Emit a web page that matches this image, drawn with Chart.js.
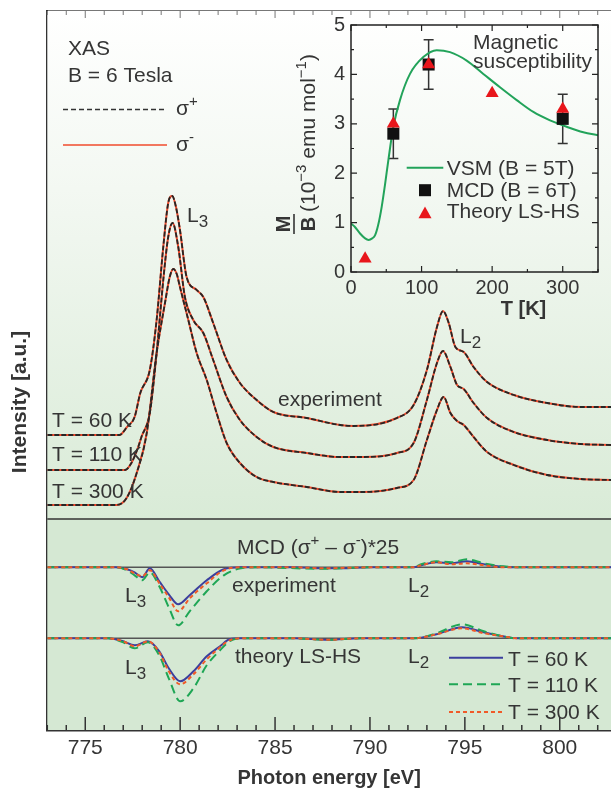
<!DOCTYPE html>
<html>
<head>
<meta charset="utf-8">
<title>XAS / MCD</title>
<script src="https://cdn.jsdelivr.net/npm/chart.js@4.4.1/dist/chart.umd.min.js"></script>
<style>
  html, body { margin: 0; padding: 0; background: #fff; }
  #wrap { position: relative; width: 611px; height: 792px; overflow: hidden; }
  #xas { position: absolute; left: 0; top: 0; }
  #inset { position: absolute; left: 270px; top: 0; }
</style>
</head>
<body>
<div id="wrap">
  <canvas id="xas" width="611" height="792"></canvas>
  <canvas id="inset" width="341" height="330"></canvas>
</div>
<script>
// 글꼴 / 색
const FONT = "'Liberation Sans', Arial, Helvetica, sans-serif";
const TEXT = '#353535';
Chart.defaults.font.family = FONT;
Chart.defaults.color = TEXT;

// 메인 x축
const energyTicks = [775, 780, 785, 790, 795, 800];
const energyMin = 773;
const energyMax = 802.7;

// XAS 스펙트럼 [eV, a.u.] (σ+ 와 σ- 는 겹쳐 보임)
const xas60 = [[773.0,2.95],[776.3,2.95],[776.8,2.95],[777.2,3.03],[777.6,3.13],[777.9,3.37],[778.4,3.60],[778.76,4.10],[779.11,4.83],[779.37,5.27],[779.58,5.34],[779.78,5.23],[779.99,5.00],[780.34,4.53],[780.87,4.40],[781.22,4.33],[781.74,4.07],[782.45,3.70],[783.15,3.47],[784.03,3.30],[784.91,3.18],[786.67,3.12],[788.43,3.05],[789.13,3.04],[791.42,3.12],[792.3,3.25],[793.0,3.60],[793.53,4.03],[793.85,4.19],[794.15,4.07],[794.5,3.83],[794.94,3.78],[795.46,3.63],[796.17,3.48],[797.58,3.35],[799.34,3.27],[801.1,3.23],[802.7,3.23]];
const xas110 = [[773.0,2.60],[777.1,2.60],[777.43,2.67],[777.79,2.83],[777.96,2.93],[778.4,3.17],[778.76,3.77],[779.11,4.50],[779.37,4.93],[779.6,5.07],[779.9,4.83],[780.25,4.33],[780.69,4.10],[781.22,3.97],[781.74,3.70],[782.45,3.33],[783.15,3.10],[784.03,2.93],[784.91,2.83],[786.67,2.77],[788.43,2.73],[789.66,2.73],[791.42,2.77],[792.3,2.87],[793.0,3.30],[793.53,3.67],[793.85,3.79],[794.24,3.63],[794.59,3.45],[794.94,3.41],[795.46,3.27],[796.17,3.12],[797.58,2.98],[799.34,2.90],[801.1,2.86],[802.7,2.85]];
const xas300 = [[773.0,2.25],[776.65,2.25],[777.18,2.32],[777.71,2.57],[778.24,2.97],[778.76,3.77],[779.2,4.27],[779.45,4.53],[779.64,4.61],[779.82,4.56],[779.99,4.43],[780.43,4.10],[780.87,3.77],[781.4,3.50],[781.92,3.17],[782.45,2.87],[783.15,2.67],[784.03,2.53],[784.91,2.48],[786.67,2.43],[788.43,2.38],[789.66,2.38],[791.42,2.42],[792.3,2.50],[793.0,2.90],[793.53,3.20],[793.88,3.33],[794.24,3.17],[794.59,3.09],[794.94,3.05],[795.46,2.93],[796.17,2.78],[797.58,2.65],[799.34,2.55],[801.1,2.51],[802.7,2.50]];

// MCD (σ+ − σ-)*25, 실험
const mcdExp60 = [[773,0],[776.6,0],[777.2,-0.02],[777.6,-0.05],[778.0,-0.10],[778.4,-0.01],[778.9,-0.14],[779.4,-0.27],[779.9,-0.37],[780.5,-0.28],[781.4,-0.13],[782.3,-0.02],[783.2,0],[786,0],[787.5,-0.01],[788.5,-0.01],[790,0],[792.3,0],[792.7,0.02],[793.5,0.05],[794.3,0.04],[795.1,0.06],[796.0,0.03],[797.0,0.005],[798,0],[802.7,0]];
const mcdExp110 = [[773,0],[776.6,0],[777.2,-0.03],[777.6,-0.08],[778.0,-0.13],[778.4,-0.05],[778.9,-0.19],[779.4,-0.40],[779.9,-0.58],[780.5,-0.44],[781.4,-0.24],[782.3,-0.08],[783.2,-0.01],[784,0],[787.5,-0.015],[788.5,-0.01],[790,0],[792.3,0],[792.7,0.03],[793.5,0.06],[794.3,0.05],[795.1,0.08],[796,0.04],[797,0.01],[798,0],[802.7,0]];
const mcdExp300 = [[773,0],[776.6,0],[777.2,-0.02],[777.6,-0.06],[778.0,-0.09],[778.4,-0.03],[778.9,-0.16],[779.4,-0.30],[779.9,-0.44],[780.5,-0.31],[781.4,-0.16],[782.3,-0.03],[783.2,0],[786,0],[787.5,-0.01],[790,0],[792.3,0],[792.7,0.02],[793.5,0.05],[794.3,0.03],[795.1,0.04],[796,0.02],[797,0],[802.7,0]];

// MCD, 이론 LS-HS
const mcdTh60 = [[773,0],[776.2,0],[777.0,-0.03],[777.6,-0.07],[778.3,-0.03],[778.9,-0.13],[779.4,-0.30],[780.0,-0.43],[780.7,-0.33],[781.4,-0.18],[782.1,-0.08],[782.6,-0.01],[783.2,0],[786,0],[787.8,-0.015],[789.5,0],[792.3,0],[793.5,0.04],[794.85,0.11],[796,0.06],[797,0.02],[797.75,0],[802.7,0]];
const mcdTh110 = [[773,0],[776.2,0],[777.0,-0.04],[777.6,-0.10],[778.3,-0.04],[778.9,-0.17],[779.4,-0.40],[780.0,-0.63],[780.7,-0.50],[781.4,-0.27],[782.1,-0.12],[782.6,-0.03],[783.2,0],[786,0],[787.8,-0.015],[789.5,0],[792.3,0],[793.5,0.05],[794.85,0.14],[796,0.07],[797,0.02],[797.75,0],[802.7,0]];
const mcdTh300 = [[773,0],[776.2,0],[777.0,-0.03],[777.6,-0.08],[778.3,-0.03],[778.9,-0.14],[779.4,-0.33],[780.0,-0.46],[780.7,-0.36],[781.4,-0.21],[782.1,-0.09],[782.6,-0.02],[783.2,0],[786,0],[787.8,-0.015],[789.5,0],[792.3,0],[793.5,0.04],[794.85,0.10],[796,0.05],[797,0.02],[797.75,0],[802.7,0]];

// 패널 기준선 (a.u.)
const panelSplit = 2.11;
const expZero = 1.627;
const theoryZero = 0.917;

// 인셋: 자화율
const insetTTicks = [0, 100, 200, 300];
const insetMBTicks = [0, 1, 2, 3, 4, 5];
const vsmCurve = [[0,0.98],[5,0.92],[12.8,0.78],[20,0.68],[25,0.65],[30,0.68],[34,0.74],[38.5,0.95],[43.5,1.32],[48,1.75],[52.9,2.26],[60,2.94],[69.4,3.48],[83.6,4.01],[102.5,4.35],[121.4,4.49],[140.3,4.45],[163.9,4.28],[187.5,4.01],[211.1,3.74],[234.8,3.48],[258.4,3.24],[282,3.07],[305.6,2.94],[329.2,2.83],[350,2.77]];
const mcdT = [60, 110, 300];
const mcdMB = [2.8, 4.2, 3.1];
const mcdErr = [0.5, 0.5, 0.5];
const theoryT = [20, 60, 110, 200, 300];
const theoryMB = [0.27, 3.0, 4.2, 3.62, 3.3];

const COLORS = {
  plus: '#262626',
  minus: '#f04b2c',
  t60: '#3b3f9e',
  t110: '#1fa655',
  t300: '#f05a28',
  vsm: '#22a35a',
  tri: '#e8161b'
};

const pts = (arr, off = 0) => arr.map(([x, y]) => ({ x, y: y + off }));

// 위/아래 첨자 포함 텍스트
function richText(ctx, x, y, parts, size = 21) {
  let cx = x;
  ctx.textAlign = 'left';
  ctx.textBaseline = 'alphabetic';
  for (const [t, kind, weight] of parts) {
    let s = size, dy = 0;
    if (kind === 'sup') { s = Math.round(size * 0.72); dy = -size * 0.42; }
    if (kind === 'sub') { s = Math.round(size * 0.82); dy = size * 0.25; }
    ctx.font = `${weight || 'normal'} ${s}px ${FONT}`;
    ctx.fillText(t, cx, y + dy);
    cx += ctx.measureText(t).width;
  }
  return cx;
}

function legendLine(ctx, x1, x2, y, color, dash, width = 2) {
  ctx.save();
  ctx.strokeStyle = color;
  ctx.lineWidth = width;
  ctx.setLineDash(dash);
  ctx.beginPath();
  ctx.moveTo(x1, y);
  ctx.lineTo(x2, y);
  ctx.stroke();
  ctx.restore();
}

// 배경 + 기준선
const panelPlugin = {
  id: 'panels',
  beforeDatasetsDraw(chart) {
    const { ctx, chartArea: a, scales: { y } } = chart;
    const split = y.getPixelForValue(panelSplit);
    ctx.save();
    const g = ctx.createLinearGradient(0, a.top, 0, split);
    g.addColorStop(0, '#ffffff');
    g.addColorStop(0.35, '#f3f8f2');
    g.addColorStop(1, '#d9ebd7');
    ctx.fillStyle = g;
    ctx.fillRect(a.left, a.top, a.right - a.left, split - a.top);
    ctx.fillStyle = '#d5e8d3';
    ctx.fillRect(a.left, split, a.right - a.left, a.bottom - split);

    ctx.strokeStyle = '#333';
    ctx.lineWidth = 1.6;
    ctx.beginPath();
    ctx.moveTo(a.left, split);
    ctx.lineTo(a.right, split);
    ctx.stroke();
    ctx.strokeStyle = '#555';
    ctx.lineWidth = 1.4;
    for (const z of [expZero, theoryZero]) {
      const py = y.getPixelForValue(z);
      ctx.beginPath();
      ctx.moveTo(a.left, py);
      ctx.lineTo(a.right, py);
      ctx.stroke();
    }
    ctx.restore();
  }
};

// 안쪽 눈금
const frameTicks = {
  id: 'frameTicks',
  afterDatasetsDraw(chart) {
    const { ctx, chartArea: a, scales: { x } } = chart;
    ctx.save();
    for (let e = Math.ceil(x.min); e <= x.max; e++) {
      const px = x.getPixelForValue(e);
      const major = energyTicks.includes(e);
      ctx.strokeStyle = '#333';
      ctx.lineWidth = 1.5;
      ctx.beginPath();
      ctx.moveTo(px, a.bottom);
      ctx.lineTo(px, a.bottom - (major ? 13 : 5));
      ctx.stroke();
      ctx.strokeStyle = '#777';
      ctx.lineWidth = 1;
      ctx.beginPath();
      ctx.moveTo(px, a.top);
      ctx.lineTo(px, a.top + (major ? 7 : 4));
      ctx.stroke();
    }
    ctx.restore();
  }
};

// 주석, 범례
const labelPlugin = {
  id: 'labels',
  afterDatasetsDraw(chart) {
    const { ctx } = chart;
    ctx.save();
    ctx.fillStyle = TEXT;

    // 세로축 제목
    ctx.save();
    ctx.translate(20, 402);
    ctx.rotate(-Math.PI / 2);
    ctx.font = `bold 21px ${FONT}`;
    ctx.textAlign = 'center';
    ctx.textBaseline = 'middle';
    ctx.fillText('Intensity [a.u.]', 0, 0);
    ctx.restore();

    richText(ctx, 68, 55, [['XAS']]);
    richText(ctx, 68, 82, [['B = 6 Tesla']]);
    legendLine(ctx, 63, 167, 109.5, '#333', [5, 3], 1.3);
    richText(ctx, 176, 115, [['σ'], ['+', 'sup']]);
    legendLine(ctx, 63, 167, 145, COLORS.minus, [], 1.6);
    richText(ctx, 176, 151, [['σ'], ['-', 'sup']]);

    richText(ctx, 187, 221.5, [['L'], ['3', 'sub']]);
    richText(ctx, 460, 343, [['L'], ['2', 'sub']]);
    richText(ctx, 278, 406, [['experiment']]);
    richText(ctx, 52, 426.5, [['T = 60 K']]);
    richText(ctx, 52, 461, [['T = 110 K']]);
    richText(ctx, 52, 498, [['T = 300 K']]);

    richText(ctx, 237, 554, [['MCD ('], ['σ'], ['+', 'sup'], [' – σ'], ['-', 'sup'], [')*25']]);
    richText(ctx, 232, 592, [['experiment']]);
    richText(ctx, 235, 663, [['theory LS-HS']]);
    richText(ctx, 125, 602, [['L'], ['3', 'sub']]);
    richText(ctx, 125, 674, [['L'], ['3', 'sub']]);
    richText(ctx, 408, 592, [['L'], ['2', 'sub']]);
    richText(ctx, 408, 663, [['L'], ['2', 'sub']]);

    legendLine(ctx, 449, 503, 657.7, COLORS.t60, [], 2);
    richText(ctx, 508, 665.5, [['T = 60 K']]);
    legendLine(ctx, 449, 503, 684.3, COLORS.t110, [9, 5], 2);
    richText(ctx, 508, 691.5, [['T = 110 K']]);
    legendLine(ctx, 449, 503, 712, COLORS.t300, [4, 3], 2);
    richText(ctx, 508, 718.5, [['T = 300 K']]);
    ctx.restore();
  }
};

const line = (data, color, dash, width = 2) => ({
  data,
  borderColor: color,
  borderDash: dash,
  borderWidth: width,
  pointRadius: 0,
  cubicInterpolationMode: 'monotone',
  xAxisID: 'x',
  yAxisID: 'y'
});

const xasChart = new Chart(document.getElementById('xas'), {
  type: 'line',
  data: {
    datasets: [
      line(pts(xas60), COLORS.plus, [5, 2], 1.8),
      line(pts(xas110), COLORS.plus, [5, 2], 1.8),
      line(pts(xas300), COLORS.plus, [5, 2], 1.8),
      line(pts(xas60), COLORS.minus, [], 2),
      line(pts(xas110), COLORS.minus, [], 2),
      line(pts(xas300), COLORS.minus, [], 2),
      line(pts(mcdExp300, expZero), COLORS.t300, [4, 3]),
      line(pts(mcdExp110, expZero), COLORS.t110, [9, 5]),
      line(pts(mcdExp60, expZero), COLORS.t60, []),
      line(pts(mcdTh300, theoryZero), COLORS.t300, [4, 3]),
      line(pts(mcdTh110, theoryZero), COLORS.t110, [9, 5]),
      line(pts(mcdTh60, theoryZero), COLORS.t60, [])
    ]
  },
  options: {
    responsive: false,
    animation: false,
    layout: { padding: 0 },
    plugins: { legend: { display: false }, tooltip: { enabled: false } },
    scales: {
      x: {
        type: 'linear',
        position: 'bottom',
        min: energyMin,
        max: energyMax,
        afterBuildTicks: s => { s.ticks = energyTicks.map(v => ({ value: v })); },
        afterFit: s => { s.height = 62; },
        grid: { display: false, drawTicks: false },
        border: { display: true, color: '#333', width: 2.5 },
        ticks: { color: TEXT, font: { size: 21 }, padding: 6, maxRotation: 0 },
        title: {
          display: true,
          text: 'Photon energy [eV]',
          color: TEXT,
          font: { size: 20, weight: 'bold' },
          padding: { top: 0, bottom: 2 }
        }
      },
      xTop: {
        type: 'linear',
        position: 'top',
        min: energyMin,
        max: energyMax,
        afterFit: s => { s.height = 11; },
        ticks: { display: false },
        grid: { display: false, drawTicks: false },
        border: { display: true, color: '#777', width: 1.5 }
      },
      y: {
        type: 'linear',
        min: 0,
        max: 7.19,
        afterFit: s => { s.width = 47.3; },
        ticks: { display: false },
        grid: { display: false, drawTicks: false },
        border: { display: true, color: '#333', width: 2 }
      }
    }
  },
  plugins: [panelPlugin, frameTicks, labelPlugin]
});

// 인셋 장식: 테두리, 눈금, 에러바, 범례, 축 제목
const insetDeco = {
  id: 'insetDeco',
  beforeDatasetsDraw(chart) {
    const { ctx, scales: { x, y } } = chart;
    ctx.save();
    ctx.strokeStyle = '#333';
    ctx.lineWidth = 1.5;
    mcdT.forEach((t, i) => {
      const px = x.getPixelForValue(t);
      const top = y.getPixelForValue(mcdMB[i] + mcdErr[i]);
      const bot = y.getPixelForValue(mcdMB[i] - mcdErr[i]);
      ctx.beginPath();
      ctx.moveTo(px, top); ctx.lineTo(px, bot);
      ctx.moveTo(px - 5, top); ctx.lineTo(px + 5, top);
      ctx.moveTo(px - 5, bot); ctx.lineTo(px + 5, bot);
      ctx.stroke();
    });
    ctx.restore();
  },
  afterDatasetsDraw(chart) {
    const { ctx, chartArea: a, scales: { x, y } } = chart;
    ctx.save();
    ctx.strokeStyle = '#222';
    ctx.lineWidth = 1.5;
    ctx.strokeRect(a.left, a.top, a.right - a.left, a.bottom - a.top);
    ctx.lineWidth = 1.2;
    ctx.beginPath();
    for (let t = 0; t <= x.max; t += 50) {
      const px = x.getPixelForValue(t);
      const len = t % 100 === 0 ? 6 : 3;
      ctx.moveTo(px, a.bottom); ctx.lineTo(px, a.bottom - len);
      ctx.moveTo(px, a.top); ctx.lineTo(px, a.top + len);
    }
    for (let v = 0; v <= y.max; v += 0.5) {
      const py = y.getPixelForValue(v);
      const len = Number.isInteger(v) ? 6 : 3;
      ctx.moveTo(a.left, py); ctx.lineTo(a.left + len, py);
      ctx.moveTo(a.right, py); ctx.lineTo(a.right - len, py);
    }
    ctx.stroke();

    ctx.fillStyle = TEXT;
    richText(ctx, 203, 49, [['Magnetic']]);
    richText(ctx, 203, 68, [['susceptibility']]);

    legendLine(ctx, 136.7, 173.3, 167.7, COLORS.vsm, [], 2);
    richText(ctx, 176.7, 175, [['VSM (B = 5T)']]);
    ctx.fillStyle = '#111';
    ctx.fillRect(149, 184.2, 12, 12);
    ctx.fillStyle = TEXT;
    richText(ctx, 176.7, 197.3, [['MCD (B = 6T)']]);
    ctx.fillStyle = COLORS.tri;
    ctx.beginPath();
    ctx.moveTo(155, 206.5); ctx.lineTo(161.5, 218.3); ctx.lineTo(148.5, 218.3);
    ctx.closePath();
    ctx.fill();
    ctx.fillStyle = TEXT;
    richText(ctx, 176.7, 218.3, [['Theory LS-HS']]);

    ctx.font = `bold 20px ${FONT}`;
    ctx.textAlign = 'center';
    ctx.textBaseline = 'alphabetic';
    ctx.fillText('T [K]', 253.5, 315);

    // 세로축 제목 (M/B)
    ctx.save();
    ctx.translate(24, 234);
    ctx.rotate(-Math.PI / 2);
    ctx.font = `bold 20px ${FONT}`;
    ctx.textAlign = 'center';
    ctx.fillText('M', 10, -4);
    ctx.fillText('B', 10, 20.5);
    ctx.fillRect(0, -0.8, 20, 1.6);
    ctx.fillStyle = TEXT;
    richText(ctx, 22, 20.5, [['(10'], ['\u22123', 'sup'], [' emu mol'], ['\u22121', 'sup'], [')']], 21);
    ctx.restore();
    ctx.restore();
  }
};

const insetChart = new Chart(document.getElementById('inset'), {
  type: 'line',
  data: {
    datasets: [
      {
        label: 'Theory LS-HS',
        data: theoryT.map((t, i) => ({ x: t, y: theoryMB[i] })),
        showLine: false,
        pointStyle: 'triangle',
        pointRadius: 7.5,
        pointBackgroundColor: COLORS.tri,
        pointBorderWidth: 0
      },
      {
        label: 'MCD (B = 6T)',
        data: mcdT.map((t, i) => ({ x: t, y: mcdMB[i] })),
        showLine: false,
        pointStyle: 'rect',
        pointRadius: 8.5,
        pointBackgroundColor: '#111',
        pointBorderWidth: 0
      },
      {
        label: 'VSM (B = 5T)',
        data: pts(vsmCurve),
        borderColor: COLORS.vsm,
        borderWidth: 2,
        pointRadius: 0,
        cubicInterpolationMode: 'monotone'
      }
    ]
  },
  options: {
    responsive: false,
    animation: false,
    layout: { padding: { top: 25, right: 13, left: 0, bottom: 0 } },
    plugins: { legend: { display: false }, tooltip: { enabled: false } },
    scales: {
      x: {
        type: 'linear',
        min: 0,
        max: 350,
        afterBuildTicks: s => { s.ticks = insetTTicks.map(v => ({ value: v })); },
        afterFit: s => { s.height = 58; },
        grid: { display: false, drawTicks: false },
        border: { display: false },
        ticks: { color: TEXT, font: { size: 20 }, padding: 4, maxRotation: 0 }
      },
      y: {
        type: 'linear',
        min: 0,
        max: 5,
        afterBuildTicks: s => { s.ticks = insetMBTicks.map(v => ({ value: v })); },
        afterFit: s => { s.width = 81; },
        grid: { display: false, drawTicks: false },
        border: { display: false },
        ticks: { color: TEXT, font: { size: 20 }, padding: 6 }
      }
    }
  },
  plugins: [insetDeco]
});
</script>
</body>
</html>
